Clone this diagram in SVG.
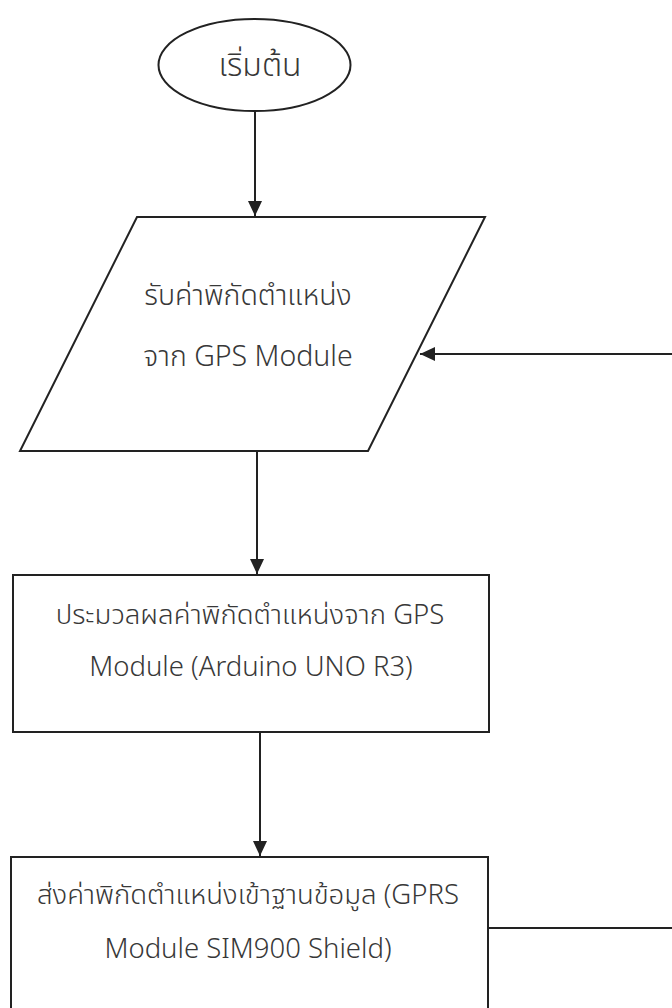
<svg xmlns="http://www.w3.org/2000/svg" width="672" height="1008" viewBox="0 0 672 1008">
  <style>
    .shape { fill: #ffffff; stroke: #222222; stroke-width: 2; }
    .conn { fill: none; stroke: #222222; stroke-width: 2; }
    .label { font-family: "Noto Sans Thai", "Noto Sans", "Open Sans", sans-serif; font-size: 27.5px; font-weight: 300; fill: #383838; text-anchor: middle; }
    .big { font-size: 32px; }
    .mid { font-size: 28.5px; }
  </style>
  <defs>
    <marker id="arrow" viewBox="0 0 15 14" refX="15" refY="7" markerWidth="15" markerHeight="14" markerUnits="userSpaceOnUse" orient="auto">
      <path d="M0,0 L15,7 L0,14 Z" fill="#222222"/>
    </marker>
  </defs>
  <rect x="0" y="0" width="672" height="1008" fill="#ffffff"/>

  <g id="connectors">
    <line class="conn" x1="255" y1="111" x2="255" y2="216" marker-end="url(#arrow)"/>
    <line class="conn" x1="257" y1="451" x2="257" y2="574" marker-end="url(#arrow)"/>
    <line class="conn" x1="260" y1="733" x2="260" y2="856" marker-end="url(#arrow)"/>
    <line class="conn" x1="488" y1="928" x2="672" y2="928"/>
    <line class="conn" x1="672" y1="354" x2="420" y2="354" marker-end="url(#arrow)"/>
  </g>

  <g id="start">
    <ellipse class="shape" cx="254.5" cy="65" rx="96" ry="46"/>
    <text class="label big" x="260" y="76">เริ่มต้น</text>
  </g>

  <g id="input-gps">
    <polygon class="shape" points="137,217 485,217 368,451 20,451"/>
    <text class="label mid" x="248" y="305">รับค่าพิกัดตำแหน่ง</text>
    <text class="label mid" x="248" y="366">จาก GPS Module</text>
  </g>

  <g id="process-arduino">
    <rect class="shape" x="13" y="575" width="476" height="157"/>
    <text class="label" x="250" y="624">ประมวลผลค่าพิกัดตำแหน่งจาก GPS</text>
    <text class="label" x="251" y="676">Module (Arduino UNO R3)</text>
  </g>

  <g id="send-gprs">
    <rect class="shape" x="11" y="857" width="477" height="170"/>
    <text class="label" x="248" y="904">ส่งค่าพิกัดตำแหน่งเข้าฐานข้อมูล (GPRS</text>
    <text class="label" x="248" y="958">Module SIM900 Shield)</text>
  </g>
</svg>
